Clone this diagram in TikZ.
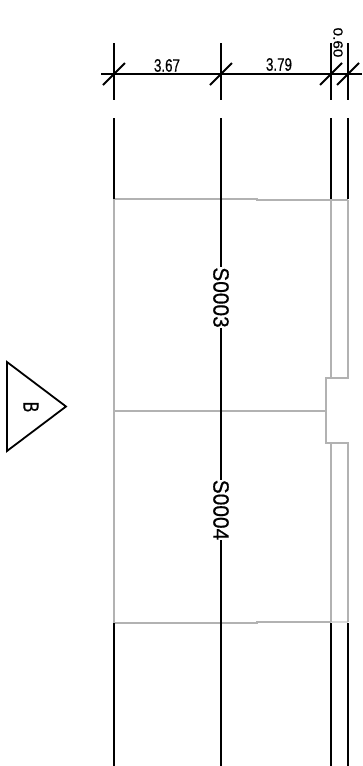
\documentclass[tikz,border=0pt]{standalone}
\usepackage{fontspec}
\setmainfont{Liberation Sans}
\newfontfamily\cadfont{Liberation Sans}[FakeBold=0.6]
\tikzset{
  blk/.style={draw=black,line width=1.8pt},
  gry/.style={draw=black!30,line width=1.8pt},
  dimtext/.style={inner sep=0pt,font=\cadfont\fontsize{18}{18}\selectfont,xscale=.74},
  tag/.style={inner sep=0pt,font=\cadfont\fontsize{22}{22}\selectfont,rotate=-90,xscale=.95},
}
\begin{document}
\begin{tikzpicture}[x=1pt,y=-1pt]
\useasboundingbox (0,0) rectangle (362,766);
% grey outline, under the grid lines
\draw[gry] (114,199) -- (257,199) -- (257,200) -- (348,200);
\draw[gry] (114,199) -- (114,623) -- (257,623) -- (257,622) -- (331,622);
\draw[gry,draw=black!15] (331,622) -- (348,622);
\draw[gry] (331,200) -- (331,378) -- (326,378) -- (326,443) -- (331,443) -- (331,622);
\draw[gry] (348,200) -- (348,378) -- (331,378);
\draw[gry] (348,622) -- (348,443) -- (331,443);
\draw[gry] (114,411) -- (326,411);
% dimension line
\coordinate (dl) at (101,74); \coordinate (dr) at (362,74);
\draw[blk] (dl) -- (dr);
\foreach \n/\x in {a/114,b/221,c/331,d/348}{
  \coordinate (\n1) at (\x,43); \coordinate (\n2) at (\x,100);
  \coordinate (\n3) at (\x,118); \coordinate (\n4) at (\x,199);
  \coordinate (\n5) at (\x,623); \coordinate (\n6) at (\x,766);
  \coordinate (\n0) at (\x,74);
  \draw[blk] (\n1) -- (\n2);
  \draw[blk] (\n0) ++(-11,11) -- ++(22,-22);
  \draw[blk] (\n3) -- (\n4);
  \draw[blk] (\n5) -- (\n6);
}
% labels
\node[dimtext] (t1) at (167,65.5) {3.67};
\node[dimtext] (t2) at (279,64.5) {3.79};
\node[dimtext,rotate=-90,xscale=.85] (t3) at (338,42.5) {0.60};
% grid line b between tags
\node[tag] (s3) at (221,297.5) {S0003};
\node[tag] (s4) at (221,510) {S0004};
\draw[blk] (b4) -- (s3.west);
\draw[blk] (s3.east) -- (s4.west);
\draw[blk] (s4.east) -- (b5);
% section mark
\coordinate (m1) at (7,362); \coordinate (m2) at (66,406.5); \coordinate (m3) at (7,451);
\draw[blk] (m1) -- (m2) -- (m3) -- cycle;
\node[inner sep=0pt,font=\cadfont\fontsize{22}{22}\selectfont,rotate=-90,xscale=.72] (bl) at (31,407) {B};
\end{tikzpicture}
\end{document}
